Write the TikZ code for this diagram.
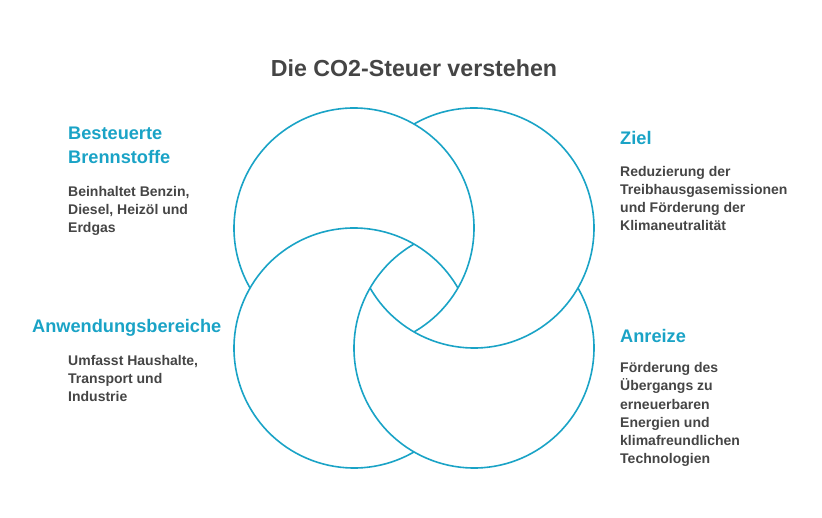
\documentclass[tikz,border=0pt]{standalone}
\usepackage{fontspec}
\setmainfont{Liberation Sans}
\usepackage{xcolor}
\usepackage{tikz}
\usetikzlibrary{positioning}

\definecolor{ringblue}{HTML}{1AA3C6}
\definecolor{textgray}{HTML}{454545}

\tikzset{
	ring/.style = {draw = ringblue, line width = 1.6pt},
	titletext/.style = {font = \bfseries\fontsize{23.2}{28}\selectfont, text = textgray, inner sep = 0pt},
	headtext/.style = {font = \bfseries\fontsize{18.2}{24}\selectfont, text = ringblue, inner sep = 0pt, align = left, anchor = base west},
	bodytext/.style = {font = \bfseries\fontsize{14}{18.3}\selectfont, text = textgray, inner sep = 0pt, align = left, anchor = base west}
}

\begin{document}
\begin{tikzpicture}[
				x = 1pt, y = 1pt,
				every node/.style = {scale = 1}
				]
				\useasboundingbox (0,0) rectangle (822,517);
				
				% die vier ringe
				\coordinate (tl) at (354,289);
				\coordinate (tr) at (474,289);
				\coordinate (bl) at (354,169);
				\coordinate (br) at (474,169);
				\draw [ring] (tl) ++(-60:120) arc [start angle = -60, end angle = 210, radius = 120];
				\draw [ring] (tr) ++(-150:120) arc [start angle = -150, end angle = 120, radius = 120];
				\draw [ring] (br) ++(120:120) arc [start angle = 120, end angle = 390, radius = 120];
				\draw [ring] (bl) ++(30:120) arc [start angle = 30, end angle = 300, radius = 120];
				
				\node [titletext, anchor = base] (titel) at (414,440) {Die CO2-Steuer verstehen};
				
				% base = letzte zeile
				\node [headtext] (brennstoffe) at (68,353) {Besteuerte\\Brennstoffe};
				\node [bodytext] (brennstoffetext) at (68,284) {Beinhaltet Benzin,\\Diesel, Heizöl und\\Erdgas};
				
				\node [headtext] (ziel) at (620,372) {Ziel};
				\node [bodytext] (zieltext) at (620,286) {Reduzierung der\\Treibhausgasemissionen\\und Förderung der\\Klimaneutralität};
				
				\node [headtext] (bereiche) at (32,184) {Anwendungsbereiche};
				\node [bodytext] (bereichetext) at (68,115) {Umfasst Haushalte,\\Transport und\\Industrie};
				
				\node [headtext] (anreize) at (620,174) {Anreize};
				\node [bodytext] (anreizetext) at (620,53) {Förderung des\\Übergangs zu\\erneuerbaren\\Energien und\\klimafreundlichen\\Technologien};
			\end{tikzpicture}
\end{document}
